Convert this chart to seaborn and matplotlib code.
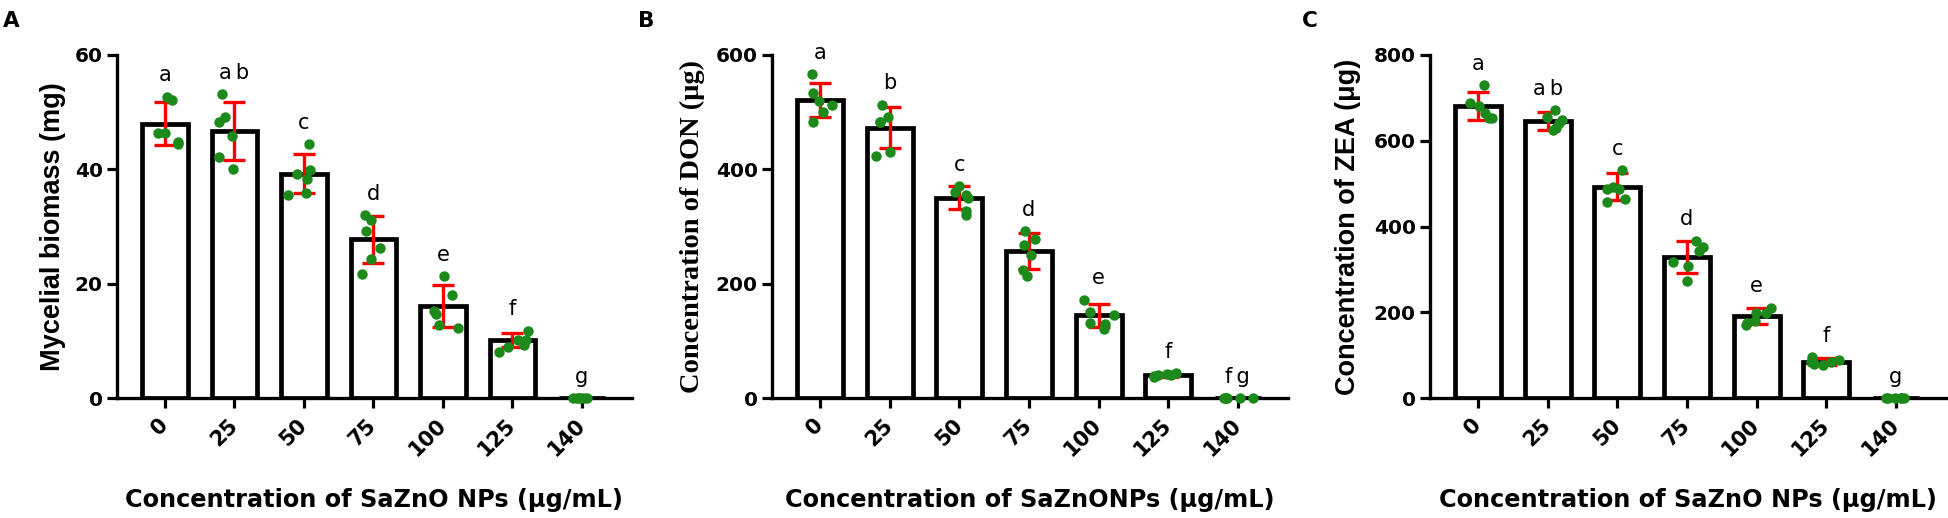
import numpy as np
import pandas as pd
import matplotlib
matplotlib.use("Agg")
import matplotlib.pyplot as plt
import seaborn as sns

sns.set_theme(style="ticks")
plt.rcParams['font.family'] = ['DejaVu Sans']
plt.rcParams['text.color'] = 'black'
plt.rcParams['axes.labelcolor'] = 'black'
plt.rcParams['xtick.color'] = 'black'
plt.rcParams['ytick.color'] = 'black'
plt.rcParams['xtick.labelcolor'] = 'black'
plt.rcParams['ytick.labelcolor'] = 'black'
np.random.seed(3)

concentrations = ["0", "25", "50", "75", "100", "125", "140"]

# Panel A: mycelial biomass (mg)
biomass_mean = [48.0, 46.7, 39.2, 27.8, 16.1, 10.1, 0.0]
biomass_sd = [3.7, 5.0, 3.4, 4.1, 3.6, 1.2, 0.0]
biomass_points = [
    [52.7, 52.1, 46.3, 46.3, 44.4, 44.8],
    [53.1, 49.2, 48.3, 45.8, 42.2, 40.0],
    [44.4, 39.2, 39.8, 38.3, 35.5, 35.9],
    [32.0, 31.2, 29.3, 26.2, 24.3, 21.7],
    [21.3, 18.1, 14.7, 15.3, 12.8, 12.2],
    [11.8, 10.1, 10.1, 9.3, 9.0, 8.0],
    [0.0, 0.0, 0.0, 0.0, 0.0, 0.0],
]
biomass_letters = ["a", "a\u2009b", "c", "d", "e", "f", "g"]

# Panel B: DON (µg)
don_mean = [521, 473, 350, 257, 145, 40, 0]
don_sd = [30, 36, 20, 32, 20, 3, 0]
don_points = [
    [566, 533, 520, 513, 501, 483],
    [513, 492, 482, 482, 431, 424],
    [371, 361, 355, 350, 320, 327],
    [292, 278, 267, 250, 224, 213],
    [172, 151, 146, 132, 130, 121],
    [44, 42, 40, 38, 36, 41],
    [0, 0, 0, 0, 0, 0],
]
don_letters = ["a", "b", "c", "d", "e", "f", "f\u2009g"]

# Panel C: ZEA (µg)
zea_mean = [681, 646, 493, 329, 192, 85, 0]
zea_sd = [32, 21, 31, 37, 19, 8, 0]
zea_points = [
    [730, 680, 664, 687, 652, 652],
    [672, 655, 641, 629, 625, 649],
    [532, 493, 488, 487, 458, 464],
    [367, 352, 342, 307, 318, 272],
    [210, 198, 198, 179, 176, 171],
    [95, 88, 85, 80, 78, 84],
    [0, 0, 0, 0, 0, 0],
]
zea_letters = ["a", "a\u2009b", "c", "d", "e", "f", "g"]

panels = [
    dict(tag="A", mean=biomass_mean, sd=biomass_sd, pts=biomass_points, letters=biomass_letters,
         ylabel="Mycelial biomass (mg)", yfont=['Liberation Sans'], ysize=19.5, ymax=60,
         yticks=[0, 20, 40, 60],
         xlabel="Concentration of SaZnO NPs (\u03bcg/mL)",
         rect=[117, 632, 55, 398], ylab_x=53, tagpos=(3, 27)),
    dict(tag="B", mean=don_mean, sd=don_sd, pts=don_points, letters=don_letters,
         ylabel="Concentration of DON (\u03bcg)", yfont=['Liberation Serif'], ysize=20.5,
         ymax=600, yticks=[0, 200, 400, 600],
         xlabel="Concentration of SaZnONPs (\u03bcg/mL)",
         rect=[772, 1288, 55, 398], ylab_x=692, tagpos=(638, 27)),
    dict(tag="C", mean=zea_mean, sd=zea_sd, pts=zea_points, letters=zea_letters,
         ylabel="Concentration of ZEA (\u03bcg)", yfont=['Liberation Sans'], ysize=19.5,
         ymax=800, yticks=[0, 200, 400, 600, 800],
         xlabel="Concentration of SaZnO NPs (\u03bcg/mL)",
         rect=[1430, 1946, 55, 398], ylab_x=1348, tagpos=(1302, 27)),
]

W, H = 1949, 518
fig = plt.figure(figsize=(W / 100, H / 100), dpi=100)
fig.patch.set_facecolor("white")

for p in panels:
    x0, x1, yt, yb = p["rect"]
    ax = fig.add_axes([x0 / W, 1 - yb / H, (x1 - x0) / W, (yb - yt) / H])
    ax.set_facecolor("white")
    df_bar = pd.DataFrame({"conc": concentrations, "value": p["mean"]})
    sns.barplot(data=df_bar, x="conc", y="value", order=concentrations, color="white",
                edgecolor="black", linewidth=3.4, width=0.66, errorbar=None, ax=ax, zorder=2)
    sd = np.array(p["sd"], dtype=float)
    sd_plot = np.where(sd > 0, sd, np.nan)
    ax.errorbar(np.arange(len(concentrations)), p["mean"], yerr=sd_plot, fmt="none",
                ecolor="#ff0000", elinewidth=2.4, capsize=8, capthick=2.4, zorder=3)
    long = pd.DataFrame([(c, v) for c, vals in zip(concentrations, p["pts"]) for v in vals],
                        columns=["conc", "value"])
    sns.stripplot(data=long, x="conc", y="value", order=concentrations, color="#1b8a1b",
                  size=7.5, jitter=0.24, ax=ax, zorder=4, clip_on=False, linewidth=0)
    for i, (lab, vals) in enumerate(zip(p["letters"], p["pts"])):
        top = max(max(vals), p["mean"][i] + p["sd"][i])
        ax.annotate(lab, (i, top), xytext=(0, 11), textcoords="offset points",
                    ha="center", va="baseline", fontsize=15, family=['DejaVu Sans'],
                    color="black")
    ax.set_xlim(-0.69, 6.72)
    ax.set_ylim(0, p["ymax"])
    ax.set_yticks(p["yticks"])
    ax.set_yticklabels([str(t) for t in p["yticks"]], fontsize=14.5, fontweight="bold")
    ax.set_xticks(range(len(concentrations)))
    ax.set_xticklabels(concentrations, fontsize=15, fontweight="bold", rotation=45,
                       ha="right", va="center", rotation_mode="anchor")
    ax.tick_params(axis="both", length=7.2, width=2.3, color="black", labelcolor="black", pad=3)
    ax.tick_params(axis="x", pad=10)
    for s in ["top", "right"]:
        ax.spines[s].set_visible(False)
    for s in ["left", "bottom"]:
        ax.spines[s].set_linewidth(2.4)
        ax.spines[s].set_color("black")
        ax.spines[s].set_zorder(3)
    ax.set_xlabel(p["xlabel"], fontsize=17.3, fontweight="bold", va="center", color="black")
    ax.xaxis.set_label_coords(0.5, (yb - 500) / (yb - yt))
    ax.set_ylabel(p["ylabel"], fontsize=p["ysize"], fontweight="bold", family=p["yfont"],
                  va="center", color="black")
    ax.yaxis.set_label_coords((p["ylab_x"] - x0) / (x1 - x0), 0.5)
    fig.text(p["tagpos"][0] / W, 1 - p["tagpos"][1] / H, p["tag"], fontsize=15.5,
             fontweight="bold", ha="left", va="baseline", color="black")

fig.savefig("out.png", dpi=100, facecolor="white")
